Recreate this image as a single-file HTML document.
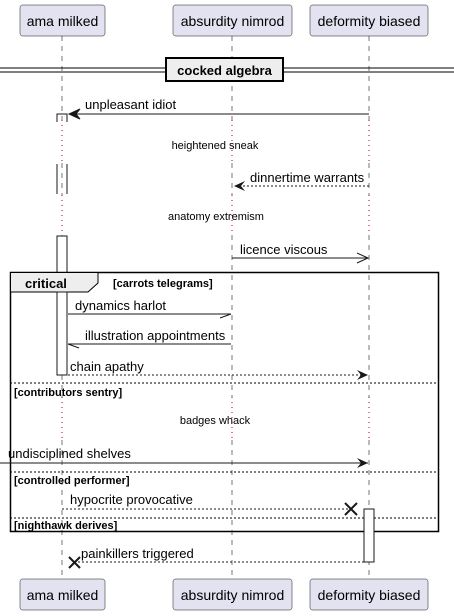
<!DOCTYPE html>
<html><head><meta charset="utf-8"><style>
html,body{margin:0;padding:0;background:#fff}
svg{display:block;font-family:"Liberation Sans",sans-serif}
</style></head><body>
<svg width="454" height="616" viewBox="0 0 454 616" xmlns="http://www.w3.org/2000/svg">
<!-- lifelines -->
<g stroke="#555" stroke-width="0.8" stroke-dasharray="5,5">
<line x1="62" y1="36" x2="62" y2="120"/><line x1="62" y1="163" x2="62" y2="195"/><line x1="62" y1="235" x2="62" y2="397"/><line x1="62" y1="440" x2="62" y2="579"/>
<line x1="232" y1="36" x2="232" y2="120"/><line x1="232" y1="163" x2="232" y2="195"/><line x1="232" y1="235" x2="232" y2="397"/><line x1="232" y1="440" x2="232" y2="579"/>
<line x1="369" y1="36" x2="369" y2="120"/><line x1="369" y1="163" x2="369" y2="195"/><line x1="369" y1="235" x2="369" y2="397"/><line x1="369" y1="440" x2="369" y2="579"/>
</g>
<!-- delay dotted segments -->
<g stroke="#A80036" stroke-width="1" stroke-dasharray="1,4">
<line x1="62" y1="120" x2="62" y2="163"/><line x1="232" y1="120" x2="232" y2="163"/><line x1="369" y1="120" x2="369" y2="163"/>
<line x1="62" y1="195" x2="62" y2="235"/><line x1="232" y1="195" x2="232" y2="235"/><line x1="369" y1="195" x2="369" y2="235"/>
<line x1="62" y1="397" x2="62" y2="440"/><line x1="232" y1="397" x2="232" y2="440"/><line x1="369" y1="397" x2="369" y2="440"/>
</g>
<!-- participant boxes -->
<g fill="#E2E2F0" stroke="#181818" stroke-width="0.5">
<rect x="20" y="5" width="85" height="31" rx="2.5"/>
<rect x="173" y="5" width="119" height="31" rx="2.5"/>
<rect x="310" y="5" width="118" height="31" rx="2.5"/>
<rect x="20" y="579" width="85" height="31" rx="2.5"/>
<rect x="173" y="579" width="119" height="31" rx="2.5"/>
<rect x="310" y="579" width="118" height="31" rx="2.5"/>
</g>
<g font-size="14" fill="#000" text-anchor="middle">
<text x="62.5" y="26">ama milked</text><text x="232.5" y="26">absurdity nimrod</text><text x="369" y="26">deformity biased</text>
<text x="62.5" y="600">ama milked</text><text x="232.5" y="600">absurdity nimrod</text><text x="369" y="600">deformity biased</text>
</g>
<!-- divider -->
<line x1="0" y1="68" x2="454" y2="68" stroke="#000" stroke-width="1"/>
<line x1="0" y1="72" x2="454" y2="72" stroke="#000" stroke-width="1"/>
<rect x="166" y="58" width="117" height="23" fill="#EEE" stroke="#000" stroke-width="2"/>
<text x="224.5" y="75" font-size="13" font-weight="bold" text-anchor="middle">cocked algebra</text>
<!-- activations ama -->
<g stroke="#181818" stroke-width="1" fill="none">
<path d="M57,122 V114 H67 V122"/>
<line x1="57" y1="164" x2="57" y2="194"/><line x1="67" y1="164" x2="67" y2="194"/>
</g>
<rect x="57" y="236" width="10" height="139" fill="#fff" stroke="#181818"/>
<!-- messages -->
<g stroke="#181818" stroke-width="1" fill="none">
<line x1="369" y1="114" x2="69" y2="114"/>
<path d="M80,109 L69,114 L80,119 L76,114 Z" fill="#181818"/>
<line x1="369" y1="186" x2="234" y2="186" stroke-dasharray="2,2"/>
<path d="M245,181 L234,186 L245,191 L241,186 Z" fill="#181818" stroke="none"/>
<line x1="232" y1="258" x2="368" y2="258"/>
<path d="M357,253 L368,258 L357,263"/>
</g>
<text x="85" y="109" font-size="13">unpleasant idiot</text>
<text x="215" y="149" font-size="11" text-anchor="middle">heightened sneak</text>
<text x="250" y="182" font-size="13">dinnertime warrants</text>
<text x="216" y="220" font-size="11" text-anchor="middle">anatomy extremism</text>
<text x="240" y="254" font-size="13">licence viscous</text>
<!-- critical frame -->
<rect x="10.5" y="272.5" width="428" height="259" fill="none" stroke="#000" stroke-width="1.5"/>
<path d="M10.5,272.5 H98 V283 L88,292 H10.5 Z" fill="#EEE" stroke="#000" stroke-width="1"/>
<text x="25" y="288" font-size="13" font-weight="bold">critical</text>
<text x="113" y="287" font-size="11" font-weight="bold">[carrots telegrams]</text>
<rect x="57" y="292" width="10" height="83" fill="#fff" stroke="#181818"/>
<g stroke="#181818" stroke-width="1" fill="none">
<line x1="68" y1="314" x2="231" y2="314"/><path d="M220,318 L231,314"/>
<line x1="231" y1="344" x2="68" y2="344"/><path d="M79,348 L68,344"/>
<line x1="68" y1="375" x2="368" y2="375" stroke-dasharray="2,2"/>
<path d="M357,370 L368,375 L357,380 L361,375 Z" fill="#181818" stroke="none"/>
</g>
<text x="75" y="310" font-size="13">dynamics harlot</text>
<text x="85" y="340" font-size="13">illustration appointments</text>
<text x="70" y="371" font-size="13">chain apathy</text>
<g stroke="#000" stroke-width="1" stroke-dasharray="2,2">
<line x1="10" y1="383" x2="439" y2="383"/>
<line x1="10" y1="472" x2="439" y2="472"/>
<line x1="10" y1="518" x2="439" y2="518"/>
</g>
<text x="14" y="396" font-size="11" font-weight="bold">[contributors sentry]</text>
<text x="215" y="424" font-size="11" text-anchor="middle">badges whack</text>
<line x1="0" y1="463" x2="368" y2="463" stroke="#181818"/>
<path d="M357,458 L368,463 L357,468 L361,463 Z" fill="#181818"/>
<text x="8" y="458" font-size="13">undisciplined shelves</text>
<text x="14" y="484" font-size="11" font-weight="bold">[controlled performer]</text>
<line x1="62" y1="509" x2="350" y2="509" stroke="#181818" stroke-dasharray="2,2"/>
<path d="M345,503 L357,515 M345,515 L357,503" stroke="#181818" stroke-width="2"/>
<text x="70" y="504" font-size="13">hypocrite provocative</text>
<rect x="364" y="509" width="10" height="53" fill="#fff" stroke="#181818"/>
<text x="14" y="529" font-size="11" font-weight="bold">[nighthawk derives]</text>
<line x1="364" y1="562" x2="76" y2="562" stroke="#181818" stroke-dasharray="2,2"/>
<path d="M69,557 L80,568 M69,568 L80,557" stroke="#181818" stroke-width="2"/>
<text x="81" y="558" font-size="13">painkillers triggered</text>
</svg>
</body></html>
